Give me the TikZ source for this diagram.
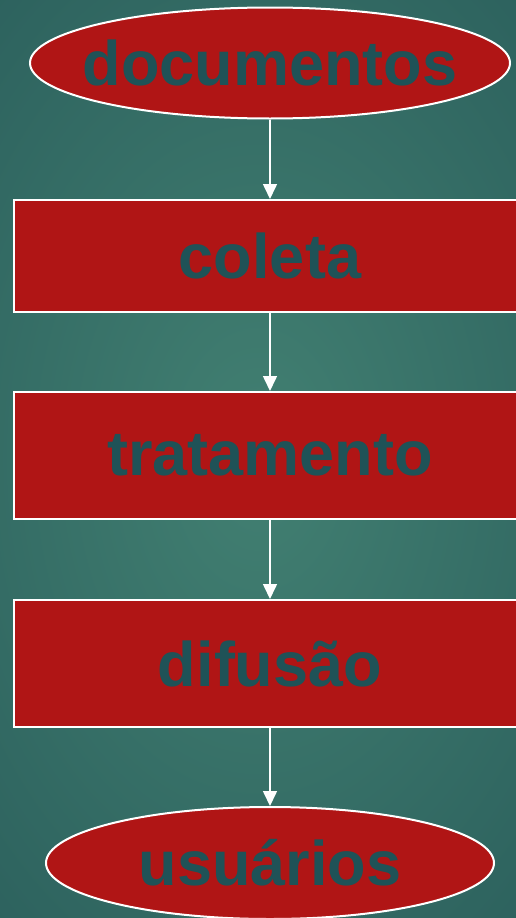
\documentclass[tikz,border=0pt]{standalone}
\usepackage{fontspec}
\setmainfont{Liberation Sans}
\usetikzlibrary{shapes.geometric,arrows.meta}
\definecolor{bgmid}{RGB}{66,128,114}
\definecolor{bgedge}{RGB}{45,98,94}
\definecolor{boxred}{RGB}{176,21,21}
\definecolor{txt}{RGB}{31,82,87}
\tikzset{
  lbl/.style={text=txt, font=\fontsize{63}{63}\selectfont\bfseries, inner sep=0pt},
  base/.style={fill=boxred, draw=white, line width=2pt, lbl},
  oval/.style={base, ellipse},
  box/.style={base, rectangle, minimum width=512pt},
  link/.style={draw=white, line width=1.6pt, -{Triangle[length=15pt,width=14pt,fill=white]}}
}
\begin{document}
\begin{tikzpicture}[x=1pt,y=-1pt]
\useasboundingbox (0,0) rectangle (516,918);
\clip (0,0) rectangle (516,918);
\shade[inner color=bgmid, outer color=bgedge] (-150,-150) rectangle (666,1068);
\node[oval, minimum width=480pt, minimum height=111pt] (doc) at (270,63) {};
\node[lbl] (doct) at (doc.center) {documentos};
\node[box, minimum height=112pt] (col) at (270,256) {coleta};
\node[box, minimum height=127pt] (tra) at (270,455.5) {tratamento};
\node[box, minimum height=127pt] (dif) at (270,663.5) {difusão};
\node[oval, minimum width=448pt, minimum height=112pt] (usu) at (270,863) {};
\node[lbl] (usut) at (usu.center) {usuários};
\draw[link] (doc) -- (col);
\draw[link] (col) -- (tra);
\draw[link] (tra) -- (dif);
\draw[link] (dif) -- (usu);
\end{tikzpicture}
\end{document}
